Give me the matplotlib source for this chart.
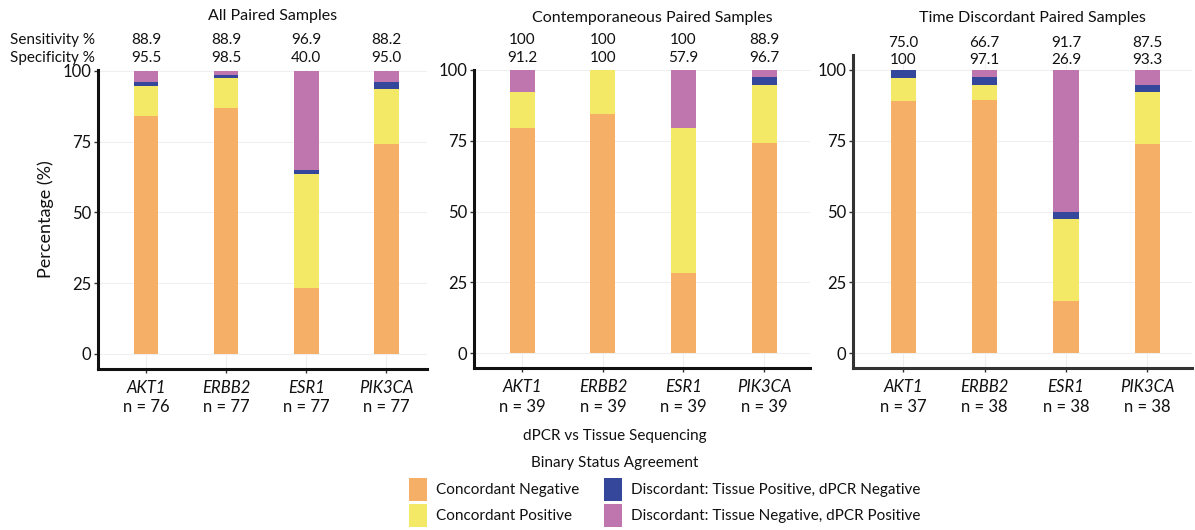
import matplotlib.pyplot as plt
from matplotlib.patches import Patch
from matplotlib.transforms import blended_transform_factory

plt.rcParams['font.family'] = ['Lato', 'DejaVu Sans']

genes = ['AKT1', 'ERBB2', 'ESR1', 'PIK3CA']
panel_titles = ['All Paired Samples', 'Contemporaneous Paired Samples',
                'Time Discordant Paired Samples']

# sample counts per gene: concordant neg, concordant pos, tissue+/dPCR-, tissue-/dPCR+
conc_neg = [[64, 67, 18, 57], [31, 33, 11, 29], [33, 34, 7, 28]]
conc_pos = [[8, 8, 31, 15], [5, 6, 20, 8], [3, 2, 11, 7]]
disc_tis_pos = [[1, 1, 1, 2], [0, 0, 0, 1], [1, 1, 1, 1]]
disc_tis_neg = [[3, 1, 27, 3], [3, 0, 8, 1], [0, 1, 19, 2]]

sensitivity = [['88.9', '88.9', '96.9', '88.2'], ['100', '100', '100', '88.9'],
               ['75.0', '66.7', '91.7', '87.5']]
specificity = [['95.5', '98.5', '40.0', '95.0'], ['91.2', '100', '57.9', '96.7'],
               ['100', '97.1', '26.9', '93.3']]

categories = ['Concordant Negative', 'Concordant Positive',
              'Discordant: Tissue Positive, dPCR Negative',
              'Discordant: Tissue Negative, dPCR Positive']
colors = ['#F6AF67', '#F3E966', '#34479B', '#BF76AF']

fig = plt.figure(figsize=(11.95, 5.3), dpi=100)

W, H = 1195, 530
# axes boxes in pixels: left, right, top, bottom
boxes = [(98, 427, 70, 369), (474, 810, 70, 368), (853, 1192, 55, 368)]
ylims = [(-5.3, 100.3), (-5.3, 100.0), (-5.3, 105.3)]
xlims = [(0.4, 4.51), (0.4, 4.57), (0.38, 4.55)]
sens_y = [40, 40, 43]
spec_y = [58, 58, 60]
title_y = [16, 18, 18]

for p in range(3):
    l, r, t, b = boxes[p]
    ax = fig.add_axes([l / W, (H - b) / H, (r - l) / W, (b - t) / H])
    x = list(range(1, 5))
    n = [conc_neg[p][i] + conc_pos[p][i] + disc_tis_pos[p][i] + disc_tis_neg[p][i]
         for i in range(4)]
    bottom = [0.0] * 4
    for k, counts in enumerate([conc_neg[p], conc_pos[p], disc_tis_pos[p], disc_tis_neg[p]]):
        pct = [100.0 * counts[i] / n[i] for i in range(4)]
        ax.bar(x, pct, width=0.31, bottom=bottom, color=colors[k], zorder=3)
        bottom = [bottom[i] + pct[i] for i in range(4)]

    ax.set_xlim(*xlims[p])
    ax.set_ylim(*ylims[p])
    ax.set_yticks([0, 25, 50, 75, 100])
    ax.set_yticklabels(['0', '25', '50', '75', '100'], fontsize=12)
    ax.set_xticks(x)
    ax.set_xticklabels(genes, fontsize=12, style='italic')
    ax.tick_params(axis='both', length=3, width=1, pad=2, colors='#333333')
    ax.tick_params(axis='x', pad=5)
    for lab in ax.get_xticklabels() + ax.get_yticklabels():
        lab.set_color('#111111')
    ax.grid(True, color='#EFEFEF', lw=0.8, zorder=0)
    for s in ['top', 'right']:
        ax.spines[s].set_visible(False)
    for s in ['left', 'bottom']:
        ax.spines[s].set_linewidth(2.2)
        ax.spines[s].set_color('#111111' if p < 2 else '#333333')

    # sample sizes under gene names, sens/spec above the bars
    tr = blended_transform_factory(ax.transData, fig.transFigure)
    for i in range(4):
        ax.text(x[i], 1 - 407 / H, 'n = %d' % n[i], transform=tr, ha='center',
                va='center', fontsize=12, color='#111111')
        ax.text(x[i], 1 - sens_y[p] / H, sensitivity[p][i], transform=tr,
                ha='center', va='center', fontsize=11, color='#111111')
        ax.text(x[i], 1 - spec_y[p] / H, specificity[p][i], transform=tr,
                ha='center', va='center', fontsize=11, color='#111111')
    fig.text(((l + r) / 2 + 10) / W, 1 - title_y[p] / H, panel_titles[p],
             ha='center', va='center', fontsize=11.5, color='#111111')

    if p == 0:
        ax.set_ylabel('Percentage (%)', fontsize=13, color='#111111', labelpad=6)

fig.text(10 / W, 1 - 40 / H, 'Sensitivity %', ha='left', va='center',
         fontsize=11, color='#111111')
fig.text(10 / W, 1 - 58 / H, 'Specificity %', ha='left', va='center',
         fontsize=11, color='#111111')

fig.text(615 / W, 1 - 436 / H, 'dPCR vs Tissue Sequencing', ha='center',
         va='center', fontsize=11, color='#111111')
fig.text(615 / W, 1 - 463 / H, 'Binary Status Agreement', ha='center',
         va='center', fontsize=11, color='#111111')

handles = [Patch(facecolor=c, edgecolor='none') for c in colors]
leg = fig.legend(handles, categories, loc='upper left', ncol=2,
                 bbox_to_anchor=(395 / W, 1 - 464 / H), frameon=False,
                 fontsize=11, handlelength=1.2, handleheight=2.0,
                 handletextpad=0.6, columnspacing=1.6, labelspacing=0.15)
for txt in leg.get_texts():
    txt.set_color('#111111')

fig.savefig('out.png', dpi=100, facecolor='white')
